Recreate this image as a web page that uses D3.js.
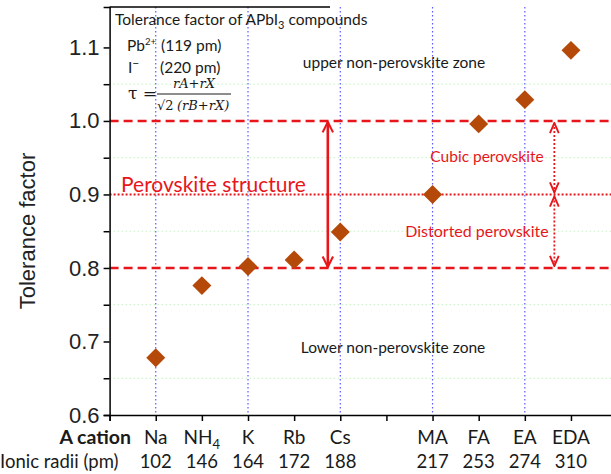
<!DOCTYPE html>
<html>
<head>
<meta charset="utf-8">
<script src="https://cdn.jsdelivr.net/npm/d3@7"></script>
<style>
  html, body { margin: 0; padding: 0; background: #fff; }
  svg { display: block; }
</style>
</head>
<body>
<div id="chart"></div>
<script>
// A-site cations of APbI3 and their Goldschmidt tolerance factors
const cations = ["Na", "NH4", "K", "Rb", "Cs", "MA", "FA", "EA", "EDA"];
const slots = [1, 2, 3, 4, 5, 7, 8, 9, 10];
const radii = [102, 146, 164, 172, 188, 217, 253, 274, 310];
const tolerance = [0.678, 0.776, 0.802, 0.811, 0.849, 0.900, 0.996, 1.029, 1.096];
const yTicks = [0.6, 0.7, 0.8, 0.9, 1.0, 1.1];
const yMinorTicks = [0.65, 0.75, 0.85, 0.95, 1.05];
const xTicks = [0, 1, 2, 3, 4, 5, 6, 7, 8, 9, 10, 11];
const xGrid = [1, 3, 5, 7, 9];
const boundaries = [0.8, 1.0];   // perovskite window
const cubicLimit = 0.9;

const W = 611, H = 474;
const svg = d3.select("#chart").append("svg").attr("width", W).attr("height", H);

const x = d3.scaleLinear().domain([0, 11]).range([109.6, 617.1]);
const y = d3.scaleLinear().domain([0.6, 1.155]).range([415, 7]);
const x0 = x(0), yb = y(0.6), yt = y(1.155);

const sans = "Lato, 'Open Sans', sans-serif";
const arial = "'Liberation Sans', Arial, sans-serif";

// grid: blue dotted verticals, green dotted horizontals
svg.append("g").selectAll("line").data(xGrid).join("line")
  .attr("x1", d => x(d)).attr("x2", d => x(d))
  .attr("y1", yt).attr("y2", yb)
  .attr("stroke", "#5a5aff").attr("stroke-width", 1.2).attr("stroke-dasharray", "1.5,2.5");
svg.append("g").selectAll("line").data(yMinorTicks).join("line")
  .attr("x1", x0).attr("x2", W)
  .attr("y1", d => y(d)).attr("y2", d => y(d))
  .attr("stroke", "#c4efc4").attr("stroke-width", 1).attr("stroke-dasharray", "1.5,2.5");

// perovskite window boundaries
svg.append("g").selectAll("line").data(boundaries).join("line")
  .attr("x1", x0).attr("x2", W)
  .attr("y1", d => y(d)).attr("y2", d => y(d))
  .attr("stroke", "#e8161b").attr("stroke-width", 2.4).attr("stroke-dasharray", "9,5");
svg.append("line")
  .attr("x1", x0).attr("x2", W)
  .attr("y1", y(cubicLimit)).attr("y2", y(cubicLimit))
  .attr("stroke", "#e8161b").attr("stroke-width", 2).attr("stroke-dasharray", "2,2");

// axes
const yAxis = d3.axisLeft(y).tickValues(yTicks).tickFormat(d3.format(".1f")).tickSize(6).tickPadding(4);
const gy = svg.append("g").attr("transform", `translate(${x0},0)`).call(yAxis);
gy.selectAll(".tick text").attr("font-family", arial).attr("font-size", 22).attr("fill", "#222");
gy.selectAll(".tick line").attr("stroke-width", 1.5);
gy.select(".domain").attr("stroke-width", 1.5);
const yMinor = d3.axisLeft(y).tickValues(yMinorTicks).tickFormat("").tickSize(6);
const gym = svg.append("g").attr("transform", `translate(${x0},0)`).call(yMinor);
gym.select(".domain").remove();
gym.selectAll(".tick line").attr("stroke-width", 1.5);

const xAxis = d3.axisBottom(x).tickValues(xTicks).tickFormat("").tickSize(6);
const gx = svg.append("g").attr("transform", `translate(0,${yb})`).call(xAxis);
gx.select(".domain").attr("stroke-width", 1.5);
gx.selectAll(".tick line").attr("stroke-width", 1.5);

// top frame over the legend box
svg.append("line").attr("x1", x0).attr("x2", 330).attr("y1", yt).attr("y2", yt)
  .attr("stroke", "#000").attr("stroke-width", 1.5);

// y axis title
svg.append("text")
  .attr("transform", `translate(35,${(y(0.6) + y(1.155)) / 2 + 20}) rotate(-90)`)
  .attr("text-anchor", "middle").attr("font-family", arial).attr("font-size", 22).attr("fill", "#222")
  .text("Tolerance factor");

// arrows
const defs = svg.append("defs");
defs.append("marker").attr("id", "chev").attr("viewBox", "0 0 10 10")
  .attr("refX", 9).attr("refY", 5).attr("markerWidth", 5).attr("markerHeight", 5)
  .attr("orient", "auto-start-reverse").attr("markerUnits", "strokeWidth")
  .append("path").attr("d", "M1,1 L9,5 L1,9").attr("fill", "none")
  .attr("stroke", "#e8161b").attr("stroke-width", 1.6);
defs.append("marker").attr("id", "chevS").attr("viewBox", "0 0 10 10")
  .attr("refX", 9).attr("refY", 5).attr("markerWidth", 7).attr("markerHeight", 7)
  .attr("orient", "auto-start-reverse").attr("markerUnits", "strokeWidth")
  .append("path").attr("d", "M1,1.5 L9,5 L1,8.5").attr("fill", "none")
  .attr("stroke", "#e8161b").attr("stroke-width", 1.5);

svg.append("line")
  .attr("x1", x(4.73)).attr("x2", x(4.73))
  .attr("y1", y(1.0) + 1).attr("y2", y(0.8) - 1)
  .attr("stroke", "#e8161b").attr("stroke-width", 2.6)
  .attr("marker-start", "url(#chev)").attr("marker-end", "url(#chev)");

const spans = [[1.0, 0.9], [0.9, 0.8]];
svg.append("g").selectAll("line").data(spans).join("line")
  .attr("x1", x(9.64)).attr("x2", x(9.64))
  .attr("y1", d => y(d[0]) + 2).attr("y2", d => y(d[1]) - 2)
  .attr("stroke", "#e8161b").attr("stroke-width", 1.8).attr("stroke-dasharray", "2,2")
  .attr("marker-start", "url(#chevS)").attr("marker-end", "url(#chevS)");

// data points (diamonds)
const diamond = d3.symbol().type(d3.symbolSquare).size(180);
svg.append("g").selectAll("path").data(tolerance).join("path")
  .attr("d", diamond)
  .attr("transform", (d, i) => `translate(${x(slots[i])},${y(d)}) rotate(45)`)
  .attr("fill", "#b4490a");

// annotations
function txt(xp, yp, str, opts = {}) {
  return svg.append("text").attr("x", xp).attr("y", yp)
    .attr("font-family", opts.family || sans).attr("font-size", opts.size || 15)
    .attr("fill", opts.fill || "#1a1a1a").attr("text-anchor", opts.anchor || "start")
    .attr("font-weight", opts.weight || "normal")
    .attr("font-style", opts.style || "normal")
    .text(str);
}

const t1 = txt(115, 25, "Tolerance factor of APbI", { size: 15.5 });
t1.append("tspan").attr("dy", 4).attr("font-size", 11).text("3");
t1.append("tspan").attr("dy", -4).text(" compounds");

const pb = txt(127, 51, "Pb", { size: 15.5 });
pb.append("tspan").attr("dy", -6).attr("font-size", 9.5).text("2+");
txt(161, 51, "(119 pm)", { size: 15.5 });
const io = txt(128, 73, "I", { size: 15.5 });
io.append("tspan").attr("dy", -6).attr("font-size", 12).text("−");
txt(160, 73, "(220 pm)", { size: 15.5 });

// formula
const serif = "'DejaVu Serif', 'Liberation Serif', serif";
txt(128, 99, "τ =", { size: 17, family: serif });
txt(194, 88, "rA+rX", { size: 13, family: serif, style: "italic", anchor: "middle" });
svg.append("line").attr("x1", 157).attr("x2", 231).attr("y1", 94).attr("y2", 94)
  .attr("stroke", "#1a1a1a").attr("stroke-width", 1);
txt(157, 110, "√2", { size: 13, family: serif });
txt(177, 110, "(rB+rX)", { size: 13, family: serif, style: "italic" });

txt(394, 68, "upper non-perovskite zone", { size: 15.5, anchor: "middle" });
txt(393, 353, "Lower non-perovskite zone", { size: 15.5, anchor: "middle" });
txt(121, 192, "Perovskite structure", { size: 21, fill: "#e8161b" });
txt(487, 162, "Cubic perovskite", { size: 15.5, fill: "#e8161b", anchor: "middle" });
txt(477, 237, "Distorted perovskite", { size: 16, fill: "#e8161b", anchor: "middle" });

// category row and ionic radii row
txt(131, 444, "A cation", { size: 19.5, weight: "bold", anchor: "end" });
const names = svg.append("g").selectAll("text").data(cations).join("text")
  .attr("x", (d, i) => x(slots[i])).attr("y", 444)
  .attr("text-anchor", "middle").attr("font-family", sans).attr("font-size", 19).attr("fill", "#1a1a1a");
names.each(function (d) {
  const m = d.match(/^([A-Za-z]+)(\d*)$/);
  const el = d3.select(this);
  el.text(m[1]);
  if (m[2]) el.append("tspan").attr("dy", 5).attr("font-size", 13).text(m[2]);
});
txt(0, 468, "Ionic radii (pm)", { size: 18.5 });
svg.append("g").selectAll("text").data(radii).join("text")
  .attr("x", (d, i) => x(slots[i])).attr("y", 468)
  .attr("text-anchor", "middle").attr("font-family", sans).attr("font-size", 18.5).attr("fill", "#1a1a1a")
  .text(d => d);
</script>
</body>
</html>
